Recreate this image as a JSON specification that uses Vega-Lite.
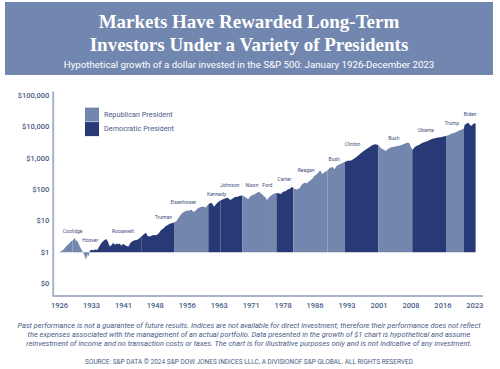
{
  "$schema": "https://vega.github.io/schema/vega-lite/v6.json",
  "background": "white",
  "padding": {"left": 5, "top": 2, "right": 7, "bottom": 0},
  "config": {"view": {"stroke": null}, "font": "Roboto", "axis": {"labelOverlap": false}},
  "spacing": 16,
  "resolve": {"legend": {"color": "independent"}, "scale": {"color": "independent"}},
  "datasets": {
    "series": [
      {"term": "Coolidge", "party": "Republican President", "year": 1926.0, "value": 1.0},
      {"term": "Coolidge", "party": "Republican President", "year": 1926.5, "value": 1.07},
      {"term": "Coolidge", "party": "Republican President", "year": 1927.0, "value": 1.2},
      {"term": "Coolidge", "party": "Republican President", "year": 1927.6, "value": 1.48},
      {"term": "Coolidge", "party": "Republican President", "year": 1928.2, "value": 1.78},
      {"term": "Coolidge", "party": "Republican President", "year": 1928.8, "value": 2.19},
      {"term": "Coolidge", "party": "Republican President", "year": 1929.2, "value": 2.4},
      {"term": "Hoover", "party": "Republican President", "year": 1929.2, "value": 2.4},
      {"term": "Hoover", "party": "Republican President", "year": 1929.5, "value": 2.63},
      {"term": "Hoover", "party": "Republican President", "year": 1929.75, "value": 2.82},
      {"term": "Hoover", "party": "Republican President", "year": 1929.9, "value": 2.29},
      {"term": "Hoover", "party": "Republican President", "year": 1930.2, "value": 2.4},
      {"term": "Hoover", "party": "Republican President", "year": 1930.5, "value": 2.0},
      {"term": "Hoover", "party": "Republican President", "year": 1930.9, "value": 1.51},
      {"term": "Hoover", "party": "Republican President", "year": 1931.4, "value": 1.12},
      {"term": "Hoover", "party": "Republican President", "year": 1931.8, "value": 0.89},
      {"term": "Hoover", "party": "Republican President", "year": 1932.0, "value": 0.76},
      {"term": "Hoover", "party": "Republican President", "year": 1932.15, "value": 0.54},
      {"term": "Hoover", "party": "Republican President", "year": 1932.3, "value": 0.79},
      {"term": "Hoover", "party": "Republican President", "year": 1932.5, "value": 0.6},
      {"term": "Hoover", "party": "Republican President", "year": 1932.7, "value": 0.89},
      {"term": "Hoover", "party": "Republican President", "year": 1932.9, "value": 0.71},
      {"term": "Hoover", "party": "Republican President", "year": 1933.2, "value": 1.05},
      {"term": "Roosevelt", "party": "Democratic President", "year": 1933.2, "value": 1.1},
      {"term": "Roosevelt", "party": "Democratic President", "year": 1933.6, "value": 1.2},
      {"term": "Roosevelt", "party": "Democratic President", "year": 1934.0, "value": 1.15},
      {"term": "Roosevelt", "party": "Democratic President", "year": 1934.5, "value": 1.23},
      {"term": "Roosevelt", "party": "Democratic President", "year": 1935.0, "value": 1.17},
      {"term": "Roosevelt", "party": "Democratic President", "year": 1935.5, "value": 1.58},
      {"term": "Roosevelt", "party": "Democratic President", "year": 1936.0, "value": 2.0},
      {"term": "Roosevelt", "party": "Democratic President", "year": 1936.6, "value": 2.4},
      {"term": "Roosevelt", "party": "Democratic President", "year": 1937.1, "value": 2.63},
      {"term": "Roosevelt", "party": "Democratic President", "year": 1937.5, "value": 2.14},
      {"term": "Roosevelt", "party": "Democratic President", "year": 1937.9, "value": 1.51},
      {"term": "Roosevelt", "party": "Democratic President", "year": 1938.3, "value": 1.66},
      {"term": "Roosevelt", "party": "Democratic President", "year": 1938.7, "value": 2.0},
      {"term": "Roosevelt", "party": "Democratic President", "year": 1939.1, "value": 1.74},
      {"term": "Roosevelt", "party": "Democratic President", "year": 1939.5, "value": 1.91},
      {"term": "Roosevelt", "party": "Democratic President", "year": 1939.9, "value": 1.78},
      {"term": "Roosevelt", "party": "Democratic President", "year": 1940.3, "value": 1.91},
      {"term": "Roosevelt", "party": "Democratic President", "year": 1940.6, "value": 1.62},
      {"term": "Roosevelt", "party": "Democratic President", "year": 1941.0, "value": 1.82},
      {"term": "Roosevelt", "party": "Democratic President", "year": 1941.4, "value": 1.74},
      {"term": "Roosevelt", "party": "Democratic President", "year": 1941.8, "value": 1.58},
      {"term": "Roosevelt", "party": "Democratic President", "year": 1942.3, "value": 1.51},
      {"term": "Roosevelt", "party": "Democratic President", "year": 1942.8, "value": 2.0},
      {"term": "Roosevelt", "party": "Democratic President", "year": 1943.3, "value": 2.29},
      {"term": "Roosevelt", "party": "Democratic President", "year": 1943.8, "value": 2.4},
      {"term": "Roosevelt", "party": "Democratic President", "year": 1944.4, "value": 2.51},
      {"term": "Roosevelt", "party": "Democratic President", "year": 1945.0, "value": 2.82},
      {"term": "Roosevelt", "party": "Democratic President", "year": 1945.3, "value": 3.16},
      {"term": "Truman", "party": "Democratic President", "year": 1945.3, "value": 3.16},
      {"term": "Truman", "party": "Democratic President", "year": 1945.8, "value": 3.63},
      {"term": "Truman", "party": "Democratic President", "year": 1946.4, "value": 4.17},
      {"term": "Truman", "party": "Democratic President", "year": 1946.8, "value": 3.31},
      {"term": "Truman", "party": "Democratic President", "year": 1947.3, "value": 3.16},
      {"term": "Truman", "party": "Democratic President", "year": 1947.8, "value": 3.39},
      {"term": "Truman", "party": "Democratic President", "year": 1948.3, "value": 3.55},
      {"term": "Truman", "party": "Democratic President", "year": 1948.8, "value": 3.47},
      {"term": "Truman", "party": "Democratic President", "year": 1949.4, "value": 3.98},
      {"term": "Truman", "party": "Democratic President", "year": 1949.9, "value": 5.01},
      {"term": "Truman", "party": "Democratic President", "year": 1950.5, "value": 5.75},
      {"term": "Truman", "party": "Democratic President", "year": 1951.0, "value": 6.76},
      {"term": "Truman", "party": "Democratic President", "year": 1951.6, "value": 7.59},
      {"term": "Truman", "party": "Democratic President", "year": 1952.2, "value": 8.32},
      {"term": "Truman", "party": "Democratic President", "year": 1953.0, "value": 8.91},
      {"term": "Eisenhower", "party": "Republican President", "year": 1953.0, "value": 8.91},
      {"term": "Eisenhower", "party": "Republican President", "year": 1953.6, "value": 10.0},
      {"term": "Eisenhower", "party": "Republican President", "year": 1954.3, "value": 14.1},
      {"term": "Eisenhower", "party": "Republican President", "year": 1954.9, "value": 17.8},
      {"term": "Eisenhower", "party": "Republican President", "year": 1955.5, "value": 20.0},
      {"term": "Eisenhower", "party": "Republican President", "year": 1956.0, "value": 21.4},
      {"term": "Eisenhower", "party": "Republican President", "year": 1956.5, "value": 20.9},
      {"term": "Eisenhower", "party": "Republican President", "year": 1957.0, "value": 22.9},
      {"term": "Eisenhower", "party": "Republican President", "year": 1957.6, "value": 19.1},
      {"term": "Eisenhower", "party": "Republican President", "year": 1958.1, "value": 21.4},
      {"term": "Eisenhower", "party": "Republican President", "year": 1958.6, "value": 25.1},
      {"term": "Eisenhower", "party": "Republican President", "year": 1959.2, "value": 27.5},
      {"term": "Eisenhower", "party": "Republican President", "year": 1959.8, "value": 28.8},
      {"term": "Eisenhower", "party": "Republican President", "year": 1960.4, "value": 26.9},
      {"term": "Eisenhower", "party": "Republican President", "year": 1961.05, "value": 33.1},
      {"term": "Kennedy", "party": "Democratic President", "year": 1961.05, "value": 33.1},
      {"term": "Kennedy", "party": "Democratic President", "year": 1961.5, "value": 37.2},
      {"term": "Kennedy", "party": "Democratic President", "year": 1961.9, "value": 36.3},
      {"term": "Kennedy", "party": "Democratic President", "year": 1962.4, "value": 28.2},
      {"term": "Kennedy", "party": "Democratic President", "year": 1962.8, "value": 33.1},
      {"term": "Kennedy", "party": "Democratic President", "year": 1963.4, "value": 40.7},
      {"term": "Kennedy", "party": "Democratic President", "year": 1963.9, "value": 44.7},
      {"term": "Johnson", "party": "Democratic President", "year": 1963.9, "value": 44.7},
      {"term": "Johnson", "party": "Democratic President", "year": 1964.5, "value": 49.0},
      {"term": "Johnson", "party": "Democratic President", "year": 1965.1, "value": 52.5},
      {"term": "Johnson", "party": "Democratic President", "year": 1965.6, "value": 55.0},
      {"term": "Johnson", "party": "Democratic President", "year": 1966.2, "value": 46.8},
      {"term": "Johnson", "party": "Democratic President", "year": 1966.7, "value": 51.3},
      {"term": "Johnson", "party": "Democratic President", "year": 1967.3, "value": 57.5},
      {"term": "Johnson", "party": "Democratic President", "year": 1967.9, "value": 58.9},
      {"term": "Johnson", "party": "Democratic President", "year": 1968.5, "value": 63.1},
      {"term": "Johnson", "party": "Democratic President", "year": 1969.0, "value": 64.6},
      {"term": "Nixon", "party": "Republican President", "year": 1969.0, "value": 64.6},
      {"term": "Nixon", "party": "Republican President", "year": 1969.5, "value": 60.3},
      {"term": "Nixon", "party": "Republican President", "year": 1970.0, "value": 53.7},
      {"term": "Nixon", "party": "Republican President", "year": 1970.4, "value": 49.0},
      {"term": "Nixon", "party": "Republican President", "year": 1970.8, "value": 58.9},
      {"term": "Nixon", "party": "Republican President", "year": 1971.3, "value": 66.1},
      {"term": "Nixon", "party": "Republican President", "year": 1971.8, "value": 69.2},
      {"term": "Nixon", "party": "Republican President", "year": 1972.4, "value": 77.6},
      {"term": "Nixon", "party": "Republican President", "year": 1972.9, "value": 85.1},
      {"term": "Nixon", "party": "Republican President", "year": 1973.4, "value": 75.9},
      {"term": "Nixon", "party": "Republican President", "year": 1973.9, "value": 66.1},
      {"term": "Nixon", "party": "Republican President", "year": 1974.6, "value": 53.7},
      {"term": "Ford", "party": "Republican President", "year": 1974.6, "value": 53.7},
      {"term": "Ford", "party": "Republican President", "year": 1974.8, "value": 45.7},
      {"term": "Ford", "party": "Republican President", "year": 1975.2, "value": 55.0},
      {"term": "Ford", "party": "Republican President", "year": 1975.7, "value": 63.1},
      {"term": "Ford", "party": "Republican President", "year": 1976.3, "value": 72.4},
      {"term": "Ford", "party": "Republican President", "year": 1977.05, "value": 77.6},
      {"term": "Carter", "party": "Democratic President", "year": 1977.05, "value": 77.6},
      {"term": "Carter", "party": "Democratic President", "year": 1977.5, "value": 75.9},
      {"term": "Carter", "party": "Democratic President", "year": 1978.1, "value": 72.4},
      {"term": "Carter", "party": "Democratic President", "year": 1978.6, "value": 85.1},
      {"term": "Carter", "party": "Democratic President", "year": 1979.1, "value": 89.1},
      {"term": "Carter", "party": "Democratic President", "year": 1979.7, "value": 100},
      {"term": "Carter", "party": "Democratic President", "year": 1980.2, "value": 107},
      {"term": "Carter", "party": "Democratic President", "year": 1980.6, "value": 120},
      {"term": "Carter", "party": "Democratic President", "year": 1981.0, "value": 115},
      {"term": "Reagan", "party": "Republican President", "year": 1981.0, "value": 115},
      {"term": "Reagan", "party": "Republican President", "year": 1981.4, "value": 105},
      {"term": "Reagan", "party": "Republican President", "year": 1981.9, "value": 100},
      {"term": "Reagan", "party": "Republican President", "year": 1982.5, "value": 112},
      {"term": "Reagan", "party": "Republican President", "year": 1983.0, "value": 145},
      {"term": "Reagan", "party": "Republican President", "year": 1983.6, "value": 166},
      {"term": "Reagan", "party": "Republican President", "year": 1984.2, "value": 158},
      {"term": "Reagan", "party": "Republican President", "year": 1984.8, "value": 186},
      {"term": "Reagan", "party": "Republican President", "year": 1985.4, "value": 219},
      {"term": "Reagan", "party": "Republican President", "year": 1986.0, "value": 275},
      {"term": "Reagan", "party": "Republican President", "year": 1986.6, "value": 316},
      {"term": "Reagan", "party": "Republican President", "year": 1987.3, "value": 417},
      {"term": "Reagan", "party": "Republican President", "year": 1987.8, "value": 316},
      {"term": "Reagan", "party": "Republican President", "year": 1988.4, "value": 363},
      {"term": "Reagan", "party": "Republican President", "year": 1989.05, "value": 417},
      {"term": "Bush 1989", "party": "Republican President", "year": 1989.05, "value": 417},
      {"term": "Bush 1989", "party": "Republican President", "year": 1989.6, "value": 501},
      {"term": "Bush 1989", "party": "Republican President", "year": 1990.2, "value": 525},
      {"term": "Bush 1989", "party": "Republican President", "year": 1990.7, "value": 447},
      {"term": "Bush 1989", "party": "Republican President", "year": 1991.2, "value": 575},
      {"term": "Bush 1989", "party": "Republican President", "year": 1991.8, "value": 631},
      {"term": "Bush 1989", "party": "Republican President", "year": 1992.4, "value": 692},
      {"term": "Bush 1989", "party": "Republican President", "year": 1993.05, "value": 759},
      {"term": "Clinton", "party": "Democratic President", "year": 1993.05, "value": 759},
      {"term": "Clinton", "party": "Democratic President", "year": 1993.8, "value": 832},
      {"term": "Clinton", "party": "Democratic President", "year": 1994.6, "value": 851},
      {"term": "Clinton", "party": "Democratic President", "year": 1995.4, "value": 1000},
      {"term": "Clinton", "party": "Democratic President", "year": 1996.2, "value": 1202},
      {"term": "Clinton", "party": "Democratic President", "year": 1996.9, "value": 1479},
      {"term": "Clinton", "party": "Democratic President", "year": 1997.6, "value": 1738},
      {"term": "Clinton", "party": "Democratic President", "year": 1998.3, "value": 1995},
      {"term": "Clinton", "party": "Democratic President", "year": 1999.0, "value": 2344},
      {"term": "Clinton", "party": "Democratic President", "year": 1999.6, "value": 2630},
      {"term": "Clinton", "party": "Democratic President", "year": 2000.2, "value": 2818},
      {"term": "Clinton", "party": "Democratic President", "year": 2000.95, "value": 2630},
      {"term": "Bush 2001", "party": "Republican President", "year": 2000.95, "value": 2630},
      {"term": "Bush 2001", "party": "Republican President", "year": 2001.4, "value": 2188},
      {"term": "Bush 2001", "party": "Republican President", "year": 2001.8, "value": 1995},
      {"term": "Bush 2001", "party": "Republican President", "year": 2002.3, "value": 1862},
      {"term": "Bush 2001", "party": "Republican President", "year": 2002.6, "value": 1698},
      {"term": "Bush 2001", "party": "Republican President", "year": 2003.0, "value": 1862},
      {"term": "Bush 2001", "party": "Republican President", "year": 2003.5, "value": 2089},
      {"term": "Bush 2001", "party": "Republican President", "year": 2004.0, "value": 2239},
      {"term": "Bush 2001", "party": "Republican President", "year": 2004.7, "value": 2344},
      {"term": "Bush 2001", "party": "Republican President", "year": 2005.4, "value": 2455},
      {"term": "Bush 2001", "party": "Republican President", "year": 2006.1, "value": 2570},
      {"term": "Bush 2001", "party": "Republican President", "year": 2006.8, "value": 2818},
      {"term": "Bush 2001", "party": "Republican President", "year": 2007.4, "value": 3020},
      {"term": "Bush 2001", "party": "Republican President", "year": 2007.9, "value": 3162},
      {"term": "Bush 2001", "party": "Republican President", "year": 2008.3, "value": 2951},
      {"term": "Bush 2001", "party": "Republican President", "year": 2008.6, "value": 2291},
      {"term": "Bush 2001", "party": "Republican President", "year": 2008.93, "value": 1862},
      {"term": "Obama", "party": "Democratic President", "year": 2008.93, "value": 1862},
      {"term": "Obama", "party": "Democratic President", "year": 2009.2, "value": 1995},
      {"term": "Obama", "party": "Democratic President", "year": 2009.6, "value": 2344},
      {"term": "Obama", "party": "Democratic President", "year": 2010.0, "value": 2512},
      {"term": "Obama", "party": "Democratic President", "year": 2010.5, "value": 2630},
      {"term": "Obama", "party": "Democratic President", "year": 2011.0, "value": 2951},
      {"term": "Obama", "party": "Democratic President", "year": 2011.5, "value": 3162},
      {"term": "Obama", "party": "Democratic President", "year": 2012.1, "value": 3388},
      {"term": "Obama", "party": "Democratic President", "year": 2012.8, "value": 3715},
      {"term": "Obama", "party": "Democratic President", "year": 2013.5, "value": 4074},
      {"term": "Obama", "party": "Democratic President", "year": 2014.2, "value": 4365},
      {"term": "Obama", "party": "Democratic President", "year": 2014.9, "value": 4571},
      {"term": "Obama", "party": "Democratic President", "year": 2015.6, "value": 4677},
      {"term": "Obama", "party": "Democratic President", "year": 2016.2, "value": 4898},
      {"term": "Obama", "party": "Democratic President", "year": 2016.85, "value": 5129},
      {"term": "Trump", "party": "Republican President", "year": 2016.85, "value": 5129},
      {"term": "Trump", "party": "Republican President", "year": 2017.5, "value": 5495},
      {"term": "Trump", "party": "Republican President", "year": 2018.2, "value": 6166},
      {"term": "Trump", "party": "Republican President", "year": 2018.9, "value": 6457},
      {"term": "Trump", "party": "Republican President", "year": 2019.5, "value": 7079},
      {"term": "Trump", "party": "Republican President", "year": 2020.1, "value": 7762},
      {"term": "Trump", "party": "Republican President", "year": 2020.6, "value": 8318},
      {"term": "Trump", "party": "Republican President", "year": 2021.07, "value": 9120},
      {"term": "Biden", "party": "Democratic President", "year": 2021.07, "value": 9120},
      {"term": "Biden", "party": "Democratic President", "year": 2021.2, "value": 11482},
      {"term": "Biden", "party": "Democratic President", "year": 2021.7, "value": 12882},
      {"term": "Biden", "party": "Democratic President", "year": 2022.1, "value": 13490},
      {"term": "Biden", "party": "Democratic President", "year": 2022.5, "value": 11220},
      {"term": "Biden", "party": "Democratic President", "year": 2022.9, "value": 10965},
      {"term": "Biden", "party": "Democratic President", "year": 2023.25, "value": 12589},
      {"term": "Biden", "party": "Democratic President", "year": 2023.8, "value": 13183}
    ],
    "labels": [
      {"name": "Coolidge", "year": 1929.2, "value": 4.9},
      {"name": "Hoover", "year": 1933.3, "value": 2.5},
      {"name": "Roosevelt", "year": 1941.0, "value": 4.9},
      {"name": "Truman", "year": 1950.5, "value": 13.2},
      {"name": "Eisenhower", "year": 1955.2, "value": 38.9},
      {"name": "Kennedy", "year": 1963.0, "value": 74.1},
      {"name": "Johnson", "year": 1966.1, "value": 138},
      {"name": "Nixon", "year": 1971.3, "value": 135},
      {"name": "Ford", "year": 1974.9, "value": 145},
      {"name": "Carter", "year": 1978.9, "value": 224},
      {"name": "Reagan", "year": 1984.0, "value": 427},
      {"name": "Bush", "year": 1990.6, "value": 955},
      {"name": "Clinton", "year": 1994.9, "value": 2818},
      {"name": "Bush", "year": 2004.6, "value": 4266},
      {"name": "Obama", "year": 2012.1, "value": 7762},
      {"name": "Trump", "year": 2018.2, "value": 13800},
      {"name": "Biden", "year": 2022.5, "value": 25119}
    ]
  },
  "vconcat": [
    {
      "width": 488,
      "height": 73,
      "view": {"fill": "#7287AF", "stroke": null},
      "data": {"values": [{"t": ""}]},
      "mark": {"type": "text"},
      "encoding": {"text": {"field": "t"}},
      "title": {
        "text": ["Markets Have Rewarded Long-Term", "Investors Under a Variety of Presidents"],
        "subtitle": "Hypothetical growth of a dollar invested in the S&P 500: January 1926-December 2023",
        "orient": "top",
        "anchor": "middle",
        "frame": "group",
        "offset": -68,
        "font": "Liberation Serif",
        "fontSize": 19,
        "fontWeight": "bold",
        "color": "white",
        "lineHeight": 23,
        "subtitleFont": "Roboto",
        "subtitleFontSize": 9.7,
        "subtitleColor": "white",
        "subtitlePadding": 5
      }
    },
    {
      "width": 488,
      "height": 205,
      "title": {
        "text": [
          "Past performance is not a guarantee of future results. Indices are not available for direct investment; therefore their performance does not reflect",
          "the expenses associated with the management of an actual portfolio. Data presented in the growth of $1 chart is hypothetical and assume",
          "reinvestment of income and no transaction costs or taxes. The chart is for illustrative purposes only and is not indicative of any investment."
        ],
        "subtitle": "SOURCE: S&P DATA © 2024 S&P DOW JONES INDICES LLLC, A DIVISIONOF S&P GLOBAL. ALL RIGHTS RESERVED",
        "orient": "bottom",
        "anchor": "middle",
        "frame": "group",
        "offset": 13,
        "font": "Roboto",
        "fontSize": 7.45,
        "fontStyle": "italic",
        "fontWeight": "normal",
        "color": "#4C5B87",
        "lineHeight": 9.3,
        "subtitleFont": "Roboto",
        "subtitleFontSize": 6.5,
        "subtitleColor": "#4C5B87",
        "subtitlePadding": 11
      },
      "layer": [
        {
          "data": {"name": "series"},
          "mark": {"type": "area", "interpolate": "linear", "opacity": 1},
          "encoding": {
            "x": {
              "field": "year", "type": "quantitative",
              "scale": {"domain": [1913.32, 2027.88], "nice": false, "zero": false},
              "axis": {
                "values": [1926, 1933.5, 1941, 1948.5, 1956, 1963.5, 1971, 1978.5, 1986, 1993.5, 2001, 2008.5, 2016, 2023.5],
                "tickCount": 30,
                "labelExpr": "'' + floor(datum.value)",
                "domain": false, "ticks": false, "grid": false, "title": null,
                "labelFont": "Roboto", "labelFontSize": 7.5, "labelFontWeight": 500, "labelColor": "#4C5B87",
                "labelPadding": 5, "labelOverlap": false, "labelFlush": false
              }
            },
            "y": {
              "field": "value", "type": "quantitative",
              "scale": {"type": "log", "domain": [0.04, 140000], "nice": false},
              "axis": {
                "values": [0.1, 1, 10, 100, 1000, 10000, 100000],
                "tickCount": 20,
                "labelExpr": "datum.value < 1 ? '$0' : '$' + format(datum.value, ',')",
                "offset": -47.7,
                "domain": true, "domainColor": "#A9B3CB", "domainWidth": 2,
                "ticks": false, "grid": false, "title": null,
                "labelFont": "Roboto", "labelFontSize": 7.5, "labelFontWeight": 500, "labelColor": "#4C5B87",
                "labelPadding": 4, "labelOverlap": false, "labelFlush": false
              }
            },
            "y2": {"datum": 1},
            "color": {
              "field": "party", "type": "nominal",
              "scale": {"domain": ["Republican President", "Democratic President"], "range": ["#7387AE", "#283A76"]},
              "legend": {
                "orient": "none", "legendX": 80, "legendY": 16.6, "title": null,
                "symbolType": "square", "symbolSize": 196, "symbolStrokeWidth": 0, "symbolOpacity": 1,
                "labelFont": "Roboto", "labelFontSize": 7.3, "labelColor": "#4C5B87", "labelOffset": 5, "rowPadding": 0.5
              }
            },
            "detail": {"field": "term"}
          }
        },
        {
          "data": {"name": "labels"},
          "mark": {"type": "text", "font": "Roboto", "fontSize": 5, "color": "#3E4D7E", "baseline": "middle", "align": "center"},
          "encoding": {
            "x": {"field": "year", "type": "quantitative"},
            "y": {"field": "value", "type": "quantitative"},
            "text": {"field": "name"}
          }
        },
        {
          "data": {"values": [{}]},
          "mark": {"type": "rule", "color": "#A9B3CB", "strokeWidth": 2},
          "encoding": {
            "x": {"datum": 1924.52},
            "x2": {"datum": 2025.53},
            "y": {"datum": 0.04}
          }
        }
      ]
    }
  ]
}
